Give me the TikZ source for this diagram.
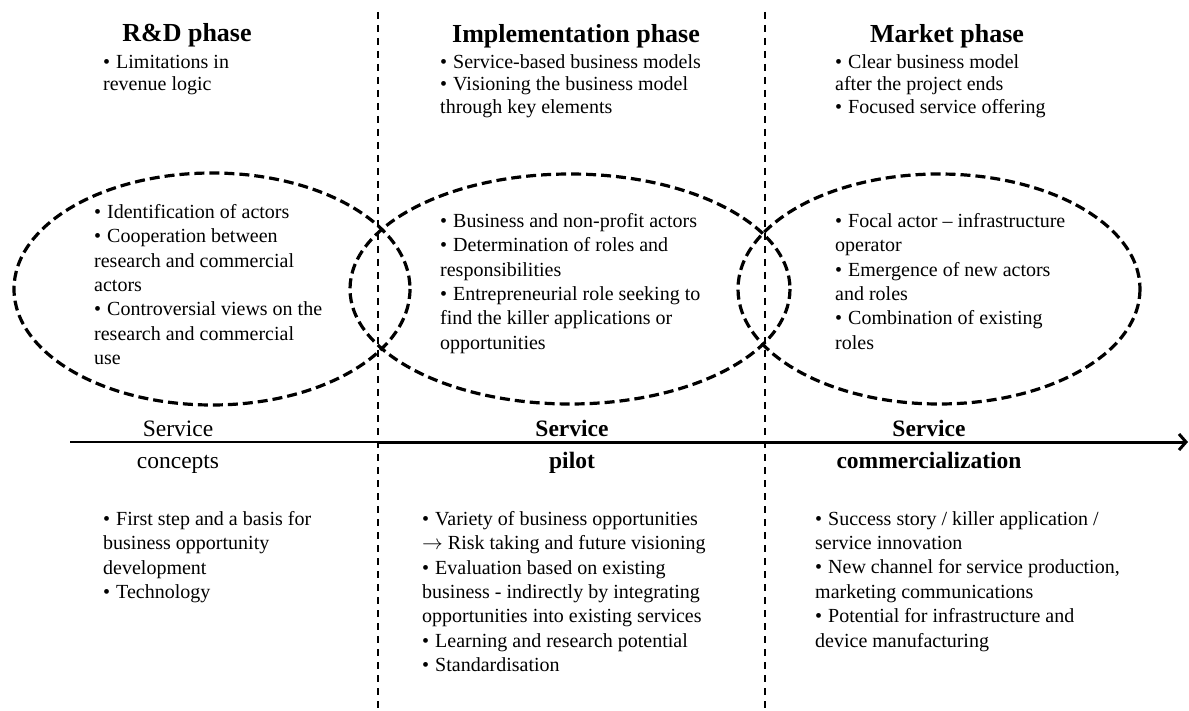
\documentclass[tikz,border=0pt]{standalone}
\usepackage{fontspec}
\setmainfont{Liberation Serif}
\usetikzlibrary{arrows.meta,positioning}

\tikzset{
  phase/.style={font=\fontsize{26}{30}\selectfont\bfseries, inner sep=0pt, anchor=base},
  toplist/.style={font=\fontsize{20}{22.5}\selectfont, align=left, anchor=north west, inner sep=0pt},
  list/.style={font=\fontsize{20}{24.4}\selectfont, align=left, anchor=north west, inner sep=0pt},
  stage/.style={font=\fontsize{23.5}{26}\selectfont, inner sep=0pt, anchor=base},
  border/.style={line width=2pt, dash pattern=on 7pt off 6pt},
  circ/.style={line width=3.2pt, dash pattern=on 10pt off 5pt},
}
\newcommand{\itm}{\textbullet\hspace{0.3em}}

\begin{document}
\begin{tikzpicture}[x=1pt,y=-1pt]
\useasboundingbox (0,0) rectangle (1189,711);

\coordinate (top1) at (378,12);
\coordinate (bot1) at (378,711);
\coordinate (top2) at (765,12);
\coordinate (bot2) at (765,711);
\draw[border] (top1) -- (bot1);
\draw[border] (top2) -- (bot2);

\draw[circ] (212,289) ellipse [x radius=198, y radius=116];
\draw[circ] (570,289) ellipse [x radius=220, y radius=115];
\draw[circ] (939,289) ellipse [x radius=201, y radius=115];

\node[phase] (rd) at (187,42) {R\&D phase};
\node[phase] (impl) at (576,43) {Implementation phase};
\node[phase] (market) at (947,43) {Market phase};

\node[toplist] (rdtop) at (103,55) {\itm Limitations in\\revenue logic};
\node[toplist] (impltop) at (440,54) {\itm Service-based business models\\
  \itm Visioning the business model\\through key elements};
\node[toplist] (markettop) at (835,54) {\itm Clear business model\\
  after the project ends\\\itm Focused service offering};

\node[list] (rdactors) at (94,204) {\itm Identification of actors\\
  \itm Cooperation between\\research and commercial\\actors\\
  \itm Controversial views on the\\research and commercial\\use};
\node[list] (implactors) at (440,213) {\itm Business and non-profit actors\\
  \itm Determination of roles and\\responsibilities\\
  \itm Entrepreneurial role seeking to\\find the killer applications or\\opportunities};
\node[list] (marketactors) at (835,213) {\itm Focal actor -- infrastructure\\operator\\
  \itm Emergence of new actors\\and roles\\
  \itm Combination of existing\\roles};

\coordinate (t0) at (70,442);
\coordinate (t1) at (378,442);
\coordinate (t2) at (1188,442);
\draw[line width=1.6pt] (t0) -- (t1);
\draw[line width=3pt, -{Straight Barb[length=7pt,width=16pt]}] (t1) -- (t2);

\node[stage] (svc1) at (178,436) {Service};
\node[stage] (concepts) at (178,468) {concepts};
\node[stage, font=\fontsize{23.5}{26}\selectfont\bfseries] (svc2) at (572,436) {Service};
\node[stage, font=\fontsize{23.5}{26}\selectfont\bfseries] (pilot) at (572,468) {pilot};
\node[stage, font=\fontsize{23.5}{26}\selectfont\bfseries] (svc3) at (929,436) {Service};
\node[stage, font=\fontsize{23.5}{26}\selectfont\bfseries] (commerce) at (929,468) {commercialization};

\node[list] (rdbottom) at (103,511) {\itm First step and a basis for\\
  business opportunity\\development\\\itm Technology};
\node[list] (implbottom) at (422,511) {\itm Variety of business opportunities\\
  $\rightarrow$ Risk taking and future visioning\\
  \itm Evaluation based on existing\\business - indirectly by integrating\\
  opportunities into existing services\\
  \itm Learning and research potential\\\itm Standardisation};
\node[list] (marketbottom) at (815,511) {\itm Success story / killer application /\\
  service innovation\\\itm New channel for service production,\\
  marketing communications\\\itm Potential for infrastructure and\\
  device manufacturing};
\end{tikzpicture}
\end{document}
